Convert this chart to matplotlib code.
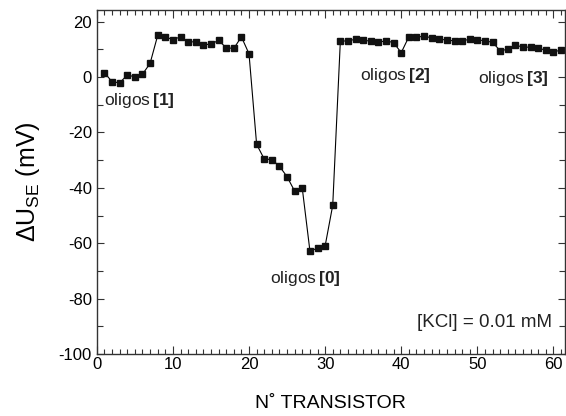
import matplotlib
matplotlib.use("Agg")
import matplotlib.pyplot as plt
from matplotlib.ticker import MultipleLocator

# Fonts - Helvetica-like
plt.rcParams['font.family'] = ['Liberation Sans', 'DejaVu Sans']
plt.rcParams['mathtext.fontset'] = 'custom'
plt.rcParams['mathtext.rm'] = 'Liberation Sans'
plt.rcParams['mathtext.bf'] = 'Liberation Sans:bold'
plt.rcParams['mathtext.default'] = 'regular'
plt.rcParams['axes.unicode_minus'] = False

# Data (transistor number vs. delta U_SE in mV)
transistor = list(range(1, 62))
delta_u = [1.6, -1.7, -2.1, 0.7, 0.1, 1.0, 4.9, 15.0, 14.5, 13.5,
           14.5, 12.7, 12.7, 11.6, 11.9, 13.2, 10.6, 10.3, 14.5, 8.4,
           -24.3, -29.6, -29.8, -32.2, -36.0, -41.2, -40.2, -62.7, -61.9, -61.0,
           -46.3, 12.9, 13.1, 13.6, 13.2, 13.0, 12.5, 13.1, 12.4, 8.8,
           14.5, 14.3, 14.8, 14.1, 13.6, 13.4, 13.0, 13.1, 13.6, 13.4,
           13.1, 12.5, 9.5, 10.0, 11.4, 10.9, 10.7, 10.4, 9.7, 9.1,
           9.7]

label_ids = ["1", "0", "2", "3"]
label_x = [1.0, 22.7, 34.6, 50.1]
label_y = [-8.5, -72.6, 0.7, -0.4]

fig = plt.figure(figsize=(5.66, 4.16), dpi=100)
ax = fig.add_axes([0.171, 0.149, 0.827, 0.827])

ax.plot(transistor, delta_u, color='black', linewidth=0.8,
        marker='s', markersize=3.8, markerfacecolor='#111111',
        markeredgecolor='#111111')

ax.set_xlim(0, 61.5)
ax.set_ylim(-100, 24.2)

ax.xaxis.set_major_locator(MultipleLocator(10))
ax.xaxis.set_minor_locator(MultipleLocator(1))
ax.yaxis.set_major_locator(MultipleLocator(20))
ax.yaxis.set_minor_locator(MultipleLocator(10))

ax.tick_params(which='both', direction='in', top=True, right=True,
               color='#333333', width=0.8, labelsize=12)
ax.tick_params(axis='x', which='major', length=6, pad=2)
ax.tick_params(axis='x', which='minor', length=3.5)
ax.tick_params(axis='y', which='major', length=5)
ax.tick_params(axis='y', which='minor', length=4)

for sp in ax.spines.values():
    sp.set_color('#333333')
    sp.set_linewidth(1.0)

ax.set_xlabel('N˚ TRANSISTOR', fontsize=14, labelpad=17)
ax.set_ylabel(r'$\Delta U_{SE}$ (mV)', fontsize=18, labelpad=12)

# oligo annotations: plain "oligos" + bold index
for idx, x, y in zip(label_ids, label_x, label_y):
    ax.text(x, y, r'oligos$\,\mathbf{[' + idx + ']}$', fontsize=12.5,
            va='center', ha='left', color='#222222')

ax.text(59.8, -88.7, '[KCl] = 0.01 mM', fontsize=13.5, ha='right',
        va='center', color='#222222')

fig.savefig('out.png', dpi=100)
